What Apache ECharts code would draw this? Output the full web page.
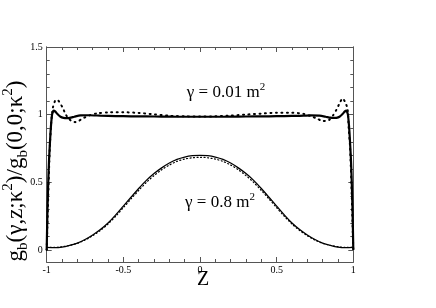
<!DOCTYPE html>
<html>
<head>
<meta charset="utf-8">
<script src="https://cdn.jsdelivr.net/npm/echarts@6/dist/echarts.min.js"></script>
<style>html,body{margin:0;padding:0;background:#fff;}#c{width:436px;height:308px;}</style>
</head>
<body>
<div id="c"></div>
<script>
// ---- data ----
var xTickLabels = [-1, -0.5, 0, 0.5, 1];
var yTickLabels = [0, 0.5, 1, 1.5];
var yMinorTicks = [0, 0.1, 0.2, 0.3, 0.4, 0.5, 0.6, 0.7, 0.8, 0.9, 1.0, 1.1, 1.2, 1.3, 1.4, 1.5];

// gamma = 0.01 m^2, solid
var zSolid1 = [-1, -0.995, -0.99, -0.985, -0.975, -0.965, -0.955, -0.945, -0.93, -0.91, -0.89, -0.87, -0.85, -0.82, -0.78, -0.72, -0.65, -0.55, -0.45, -0.35, -0.25, -0.15, -0.05, 0, 0.05, 0.15, 0.25, 0.35, 0.45, 0.55, 0.65, 0.72, 0.78, 0.82, 0.85, 0.87, 0.89, 0.91, 0.93, 0.945, 0.955, 0.965, 0.975, 0.985, 0.99, 0.995, 1];
var gSolid1 = [0, 0.3, 0.5, 0.66, 0.87, 1.0, 1.03, 1.025, 1.005, 0.985, 0.977, 0.975, 0.977, 0.985, 0.995, 0.996, 0.993, 0.99, 0.988, 0.987, 0.986, 0.985, 0.985, 0.985, 0.985, 0.985, 0.986, 0.987, 0.988, 0.99, 0.992, 0.995, 0.993, 0.985, 0.978, 0.976, 0.977, 0.985, 1.005, 1.025, 1.03, 1.0, 0.87, 0.66, 0.5, 0.3, 0];

// gamma = 0.01 m^2, dotted
var zDot1 = [-1, -0.99, -0.98, -0.97, -0.96, -0.95, -0.94, -0.925, -0.91, -0.895, -0.875, -0.855, -0.835, -0.815, -0.79, -0.76, -0.72, -0.67, -0.6, -0.5, -0.4, -0.3, -0.2, -0.1, 0, 0.1, 0.2, 0.3, 0.4, 0.5, 0.6, 0.68, 0.72, 0.76, 0.8, 0.84, 0.87, 0.89, 0.91, 0.93, 0.948, 0.963, 0.97, 0.979, 0.99, 1];
var gDot1 = [0, 0.4, 0.75, 0.95, 1.05, 1.09, 1.11, 1.105, 1.08, 1.05, 1.0, 0.97, 0.95, 0.945, 0.955, 0.975, 0.995, 1.01, 1.017, 1.018, 1.013, 1.003, 0.992, 0.988, 0.987, 0.988, 0.993, 1.001, 1.008, 1.015, 1.015, 1.005, 0.99, 0.973, 0.953, 0.96, 0.998, 1.037, 1.083, 1.12, 1.09, 1.04, 0.9, 0.76, 0.4, 0];

// gamma = 0.8 m^2
var z2 = [-1, -0.95, -0.9, -0.85, -0.8, -0.75, -0.7, -0.65, -0.6, -0.55, -0.5, -0.45, -0.4, -0.35, -0.3, -0.25, -0.2, -0.15, -0.1, -0.05, 0, 0.05, 0.1, 0.15, 0.2, 0.25, 0.3, 0.35, 0.4, 0.45, 0.5, 0.55, 0.6, 0.65, 0.7, 0.75, 0.8, 0.85, 0.9, 0.95, 1];
var gSolid2 = [0.02, 0.018, 0.022, 0.035, 0.052, 0.078, 0.112, 0.152, 0.2, 0.26, 0.325, 0.39, 0.455, 0.515, 0.565, 0.607, 0.643, 0.67, 0.687, 0.697, 0.70, 0.697, 0.687, 0.67, 0.643, 0.607, 0.565, 0.515, 0.455, 0.39, 0.325, 0.26, 0.2, 0.152, 0.112, 0.078, 0.052, 0.035, 0.022, 0.018, 0.02];
var gDot2 = [0.02, 0.02, 0.025, 0.035, 0.05, 0.074, 0.106, 0.145, 0.192, 0.25, 0.313, 0.378, 0.44, 0.5, 0.55, 0.593, 0.628, 0.655, 0.672, 0.682, 0.685, 0.682, 0.672, 0.655, 0.628, 0.593, 0.55, 0.5, 0.44, 0.378, 0.313, 0.25, 0.192, 0.145, 0.106, 0.074, 0.05, 0.035, 0.025, 0.02, 0.02];

function pairs(zs, gs) { return zs.map(function (z, i) { return [z, gs[i]]; }); }

var serif = '"Liberation Serif", "Times New Roman", serif';
function f(size) { return size + 'px "Liberation Serif", "Times New Roman", serif'; }
var axisColor = '#555';

var chart = echarts.init(document.getElementById('c'), null, {renderer: 'canvas'});

function xAxisDef(pos, showLabel) {
  return {
    type: 'value', position: pos, min: -1, max: 1, interval: 0.5,
    axisLine: {show: true, onZero: false, lineStyle: {color: axisColor, width: 1}},
    axisTick: {show: true, inside: true, length: 5, lineStyle: {color: axisColor}},
    minorTick: {show: true, splitNumber: 5, length: 3, lineStyle: {color: axisColor}},
    splitLine: {show: false}, minorSplitLine: {show: false},
    axisLabel: {show: showLabel, fontFamily: serif, fontSize: 10, color: '#000', margin: 3,
      formatter: function (v) { return String(v); }}
  };
}
function yAxisDef(pos, ticks, len, showLabel) {
  return {
    type: 'value', position: pos, min: -0.088, max: 1.5,
    axisLine: {show: true, onZero: false, lineStyle: {color: axisColor, width: 1}},
    axisTick: {show: true, inside: true, length: len, customValues: ticks, lineStyle: {color: axisColor}},
    splitLine: {show: false},
    axisLabel: {show: showLabel, customValues: yTickLabels, fontFamily: serif, fontSize: 10, color: '#000', margin: 4,
      formatter: function (v) { return String(v); }}
  };
}

chart.setOption({
  animation: false,
  backgroundColor: '#fff',
  grid: {left: 46.7, right: 82.7, top: 47, bottom: 46, containLabel: false},
  xAxis: [xAxisDef('bottom', true), xAxisDef('top', false)],
  yAxis: [
    yAxisDef('left', yTickLabels, 5, true),
    yAxisDef('left', yMinorTicks, 3, false),
    yAxisDef('right', yTickLabels, 5, false),
    yAxisDef('right', yMinorTicks, 3, false)
  ],
  series: [
    {type: 'line', name: 'g1 dotted', data: pairs(zDot1, gDot1), showSymbol: false, smooth: 0.25,
      lineStyle: {color: '#000', width: 2, type: [1, 4.5], cap: 'round'}},
    {type: 'line', name: 'g1', data: pairs(zSolid1, gSolid1), showSymbol: false, smooth: 0.2,
      lineStyle: {color: '#000', width: 2.2}},
    {type: 'line', name: 'g2 dotted', data: pairs(z2, gDot2), showSymbol: false, smooth: 0.3,
      lineStyle: {color: '#000', width: 1.2, type: [1, 2.5], cap: 'round'}},
    {type: 'line', name: 'g2', data: pairs(z2, gSolid2), showSymbol: false, smooth: 0.3,
      lineStyle: {color: '#000', width: 1.3}}
  ],
  graphic: [
    {type: 'text', x: 226, y: 93, style: {
      text: '{m|γ = 0.01 m}{s|2}', align: 'center', verticalAlign: 'middle', font: f(17),
      rich: {m: {font: f(17), lineHeight: 22, fill: '#000'},
             s: {font: f(11), lineHeight: 11, verticalAlign: 'top', fill: '#000'}}}},
    {type: 'text', x: 220, y: 203, style: {
      text: '{m|γ = 0.8 m}{s|2}', align: 'center', verticalAlign: 'middle', font: f(17),
      rich: {m: {font: f(17), lineHeight: 22, fill: '#000'},
             s: {font: f(11), lineHeight: 11, verticalAlign: 'top', fill: '#000'}}}},
    {type: 'text', x: 203, y: 280, style: {
      text: 'Z', align: 'center', verticalAlign: 'middle', font: f(20), fill: '#000'}},
    {type: 'text', x: 16, y: 171, rotation: Math.PI / 2, style: {
      text: '{m|g}{b|b}{m|(γ,z;κ}{s|2}{m|)/g}{b|b}{m|(0,0;κ}{s|2}{m|)}',
      align: 'center', verticalAlign: 'middle', font: f(23),
      rich: {m: {font: f(23), lineHeight: 30, fill: '#000'},
             b: {font: f(15), lineHeight: 15, verticalAlign: 'bottom', fill: '#000'},
             s: {font: f(15), lineHeight: 15, verticalAlign: 'top', fill: '#000'}}}}
  ]
});
</script>
</body>
</html>
